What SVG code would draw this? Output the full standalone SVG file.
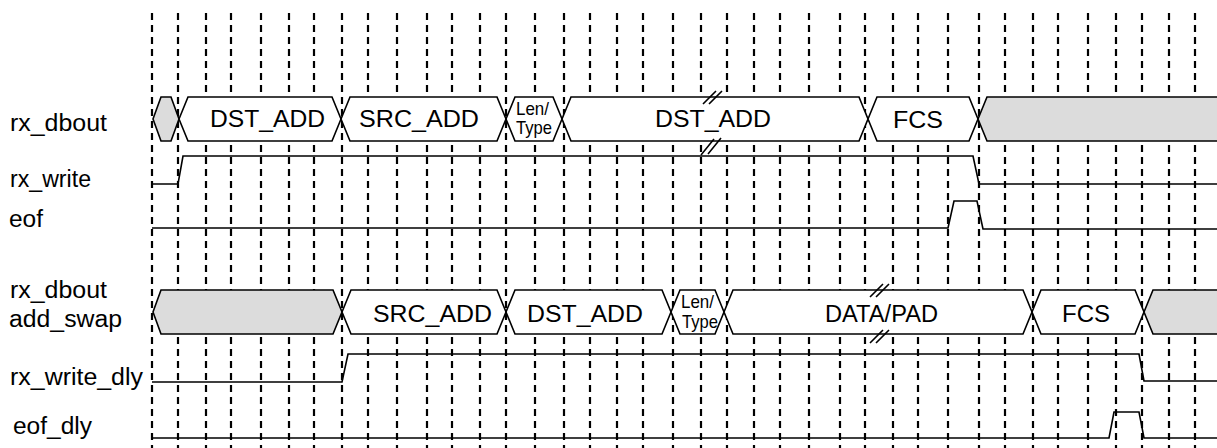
<svg xmlns="http://www.w3.org/2000/svg" width="1217" height="448" viewBox="0 0 1217 448">
<style>
.grid{stroke:#000;stroke-width:2.2;stroke-dasharray:7 5;fill:none}
.sig{stroke:#000;stroke-width:1.6;fill:none;stroke-linejoin:miter}
.bus{stroke:#000;stroke-width:1.6;fill:#fff;stroke-linejoin:miter}
.gray{fill:#dcdcdc}
.lbl{font-family:"Liberation Sans",Arial,Helvetica,sans-serif;font-size:23px;fill:#000}
.bt{font-family:"Liberation Sans",Arial,Helvetica,sans-serif;font-size:23.5px;fill:#000}
.st{font-family:"Liberation Sans",Arial,Helvetica,sans-serif;font-size:19px;fill:#000}
.brk{stroke:#000;stroke-width:1.6;fill:none}
</style>
<rect x="0" y="0" width="1217" height="448" fill="#fff"/>
<g id="grid">
<path class="grid" d="M152,13V448M178,13V448M206,13V448M231,13V448M261,13V448M289,13V448M314,13V448M342,13V448M368,13V448M397,13V448M427,13V448M452,13V448M480,13V448M506,13V448M535,13V448M564,13V448M590,13V448M617,13V448M643,13V448M673,13V448M701,13V448M727,13V448M754,13V448M780,13V448M809,13V448M840,13V448M865,13V448M893,13V448M918,13V448M948,13V448M979,13V448M1005,13V448M1033,13V448M1058,13V448M1088,13V448M1116,13V448M1142,13V448M1169,13V448M1195,13V448"/>
</g>
<g id="labels">
<text class="lbl" x="10" y="131" textLength="97" lengthAdjust="spacingAndGlyphs">rx_dbout</text>
<text class="lbl" x="10" y="187" textLength="81" lengthAdjust="spacingAndGlyphs">rx_write</text>
<text class="lbl" x="9" y="227" textLength="34" lengthAdjust="spacingAndGlyphs">eof</text>
<text class="lbl" x="10" y="298" textLength="97" lengthAdjust="spacingAndGlyphs">rx_dbout</text>
<text class="lbl" x="9" y="327" textLength="113" lengthAdjust="spacingAndGlyphs">add_swap</text>
<text class="lbl" x="10" y="385" textLength="133" lengthAdjust="spacingAndGlyphs">rx_write_dly</text>
<text class="lbl" x="13" y="434" textLength="79" lengthAdjust="spacingAndGlyphs">eof_dly</text>
</g>
<g id="rx_dbout">
<polygon class="bus gray" points="153,119 161,97 171,97 179,119 171,141 161,141"/>
<polygon class="bus" points="179,119 188,97 332,97 341,119 332,141 188,141"/>
<polygon class="bus" points="341,119 350,97 497,97 506,119 497,141 350,141"/>
<polygon class="bus" points="506,119 515,97 553,97 562,119 553,141 515,141"/>
<polygon class="bus" points="562,119 571,97 859,97 868,119 859,141 571,141"/>
<polygon class="bus" points="868,119 877,97 969,97 978,119 969,141 877,141"/>
<polygon class="bus gray" points="978,119 987,97 1225,97 1225,141 987,141"/>
<text class="bt" x="210" y="127" textLength="115" lengthAdjust="spacingAndGlyphs">DST_ADD</text>
<text class="bt" x="359" y="127" textLength="120" lengthAdjust="spacingAndGlyphs">SRC_ADD</text>
<text class="st" x="516" y="115" textLength="33" lengthAdjust="spacingAndGlyphs">Len/</text>
<text class="st" x="516" y="134" textLength="36" lengthAdjust="spacingAndGlyphs">Type</text>
<text class="bt" x="655" y="127" textLength="116" lengthAdjust="spacingAndGlyphs">DST_ADD</text>
<text class="bt" x="893" y="128" textLength="50" lengthAdjust="spacingAndGlyphs">FCS</text>
<path class="brk" d="M703,104L716,91M709,104L722,91M701,155L714,139M708,154L721,138"/>
</g>
<g id="rx_write">
<path class="sig" d="M152,184H178L183,156H973L979,184H1217"/>
</g>
<g id="eof">
<path class="sig" d="M152,228H948L954,201H977L983,229H1217"/>
</g>
<g id="rx_dbout_add_swap">
<polygon class="bus gray" points="153,312 161,290 333,290 342,312 333,334 161,334"/>
<polygon class="bus" points="342,312 351,290 497,290 506,312 497,334 351,334"/>
<polygon class="bus" points="506,312 515,290 662,290 671,312 662,334 515,334"/>
<polygon class="bus" points="671,312 680,290 715,290 724,312 715,334 680,334"/>
<polygon class="bus" points="724,312 733,290 1023,290 1032,312 1023,334 733,334"/>
<polygon class="bus" points="1032,312 1041,290 1135,290 1144,312 1135,334 1041,334"/>
<polygon class="bus gray" points="1144,312 1153,290 1225,290 1225,334 1153,334"/>
<text class="bt" x="373" y="322" textLength="119" lengthAdjust="spacingAndGlyphs">SRC_ADD</text>
<text class="bt" x="527" y="322" textLength="116" lengthAdjust="spacingAndGlyphs">DST_ADD</text>
<text class="st" x="681" y="308" textLength="33" lengthAdjust="spacingAndGlyphs">Len/</text>
<text class="st" x="682" y="328" textLength="36" lengthAdjust="spacingAndGlyphs">Type</text>
<text class="bt" x="825" y="322" textLength="113" lengthAdjust="spacingAndGlyphs">DATA/PAD</text>
<text class="bt" x="1062" y="322" textLength="48" lengthAdjust="spacingAndGlyphs">FCS</text>
<path class="brk" d="M870,297L883,284M876,297L889,284M870,343L883,330M876,343L889,330"/>
</g>
<g id="rx_write_dly">
<path class="sig" d="M152,382H342L348,354H1139L1144,381H1217"/>
</g>
<g id="eof_dly">
<path class="sig" d="M152,438H1109L1114,412H1139L1144,438H1217"/>
</g>
</svg>
